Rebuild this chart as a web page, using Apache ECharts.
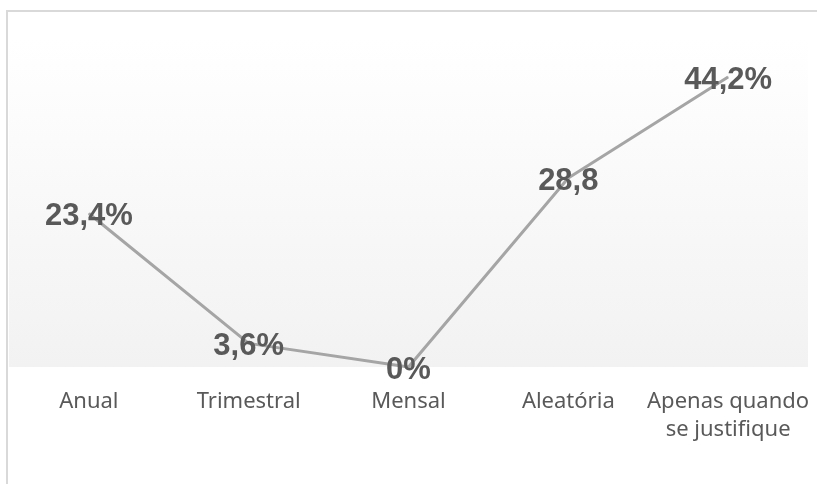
<!DOCTYPE html>
<html>
<head>
<meta charset="utf-8">
<script src="https://cdn.jsdelivr.net/npm/echarts@6/dist/echarts.min.js"></script>
<style>
  html, body { margin: 0; padding: 0; background: #fff; }
  #frame { position: absolute; left: 6px; top: 10px; width: 811px; height: 474px;
           border-top: 2px solid #d9d9d9; border-left: 2px solid #d9d9d9; box-sizing: border-box; }
  #main { position: absolute; left: 0; top: 0; width: 817px; height: 484px; }
</style>
</head>
<body>
<div id="frame"></div>
<div id="main"></div>
<script>
  // frequency categories
  var categories = ['Anual', 'Trimestral', 'Mensal', 'Aleatória', 'Apenas quando\nse justifique'];
  // percentages
  var values = [23.4, 3.6, 0, 28.8, 44.2];
  // data labels as shown on the chart
  var valueLabels = ['23,4%', '3,6%', '0%', '28,8', '44,2%'];

  var chartDom = document.getElementById('main');
  var myChart = echarts.init(chartDom);
  var option;

  option = {
    animation: false,
    grid: {
      left: 9,
      right: 9,
      top: 39,
      bottom: 117,
      show: true,
      borderWidth: 0,
      backgroundColor: new echarts.graphic.LinearGradient(0, 0, 0, 1, [
        { offset: 0, color: '#ffffff' },
        { offset: 1, color: '#f2f2f2' }
      ])
    },
    xAxis: {
      type: 'category',
      data: categories,
      boundaryGap: true,
      axisLine: { show: false },
      axisTick: { show: false },
      axisLabel: {
        margin: 21,
        interval: 0,
        color: '#595959',
        fontFamily: 'Noto Sans',
        fontSize: 22,
        lineHeight: 28
      }
    },
    yAxis: {
      type: 'value',
      min: 0,
      max: 50,
      show: false,
      splitLine: { show: false }
    },
    series: [
      {
        type: 'line',
        data: values,
        symbol: 'circle',
        symbolSize: 1,
        showSymbol: true,
        itemStyle: { color: '#a5a5a5' },
        lineStyle: { color: '#a5a5a5', width: 3 },
        label: {
          show: true,
          position: 'inside',
          offset: [0, 3],
          color: '#595959',
          fontFamily: 'Liberation Sans',
          fontWeight: 'bold',
          fontSize: 31,
          formatter: function (p) { return valueLabels[p.dataIndex]; }
        }
      }
    ]
  };

  option && myChart.setOption(option);
</script>
</body>
</html>
